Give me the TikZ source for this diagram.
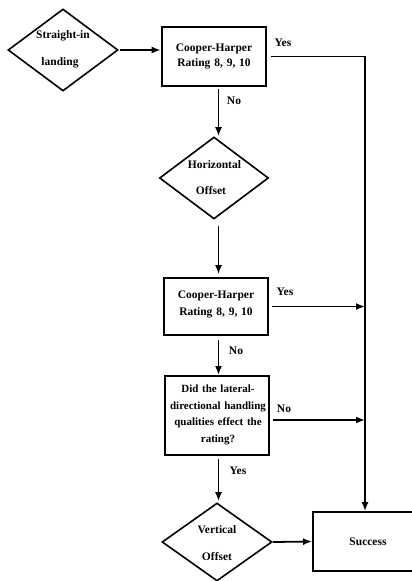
\documentclass[tikz,border=0pt]{standalone}
\usepackage{fontspec}
\setmainfont{Liberation Serif}
\usetikzlibrary{shapes.geometric,arrows.meta}
\begin{document}
\begin{tikzpicture}[x=1pt,y=-1pt,
  txt/.style={font=\bfseries\fontsize{11.5}{15}\selectfont,align=center,inner sep=0pt},
  dia/.style={diamond,draw,line width=1.6pt,inner sep=0pt},
  box/.style={rectangle,draw,line width=1.8pt,inner sep=0pt,minimum width=104pt},
  arr/.style={line width=1.8pt,-{Latex[length=9pt,width=7pt]}}]
\useasboundingbox (0,0) rectangle (412,581);
\clip (0,0) rectangle (412,581);
% shapes
\node[dia,minimum width=110pt,minimum height=82pt] (d1) at (63,50) {};
\node[box,line width=2.6pt,minimum height=59pt] (b1) at (214,56.5) {};
\node[dia,minimum width=109pt,minimum height=82pt] (d2) at (214,178) {};
\node[box,line width=1.6pt,minimum height=57pt] (b2) at (216,306.5) {};
\node[box,line width=2pt,minimum height=79pt] (b3) at (217,415.5) {};
\node[dia,minimum width=110pt,minimum height=78pt] (d3) at (217,542) {};
\node[rectangle,draw,line width=1.7pt,minimum width=110pt,minimum height=59pt] (s) at (368,541.5) {};
% texts
\node[txt] (t1a) at (63,36) {Straight-in};
\node[txt] (t1b) at (60,63) {landing};
\node[txt,text width=104pt] (t2) at (b1) {Cooper-Harper\\Rating 8, 9, 10};
\node[txt] (t3a) at (214.5,165) {Horizontal};
\node[txt] (t3b) at (211,191) {Offset};
\node[txt,text width=104pt,font=\bfseries\fontsize{11.5}{17}\selectfont] (t4) at (216,304.5) {Cooper-Harper\\Rating 8, 9, 10};
\node[txt,text width=110pt,font=\bfseries\fontsize{11}{16.5}\selectfont] (t5) at (218,415) {Did the lateral-\\directional handling\\qualities effect the\\rating?};
\node[txt] (t6a) at (217,530) {Vertical};
\node[txt] (t6b) at (217,556) {Offset};
\node[txt] (t7) at (s) {Success};
% connector labels
\node[txt] (l1) at (283,43) {Yes};
\node[txt] (l2) at (234,101) {No};
\node[txt] (l3) at (285,292) {Yes};
\node[txt] (l4) at (236,351) {No};
\node[txt] (l5) at (284,409) {No};
\node[txt] (l6) at (238,471) {Yes};
% helper coordinates
\coordinate (sp) at (218.5,0);
\coordinate (r1) at (365,56.5);
\coordinate (r2) at (365,306.5);
\coordinate (r3) at (365,420);
% connectors
\draw[arr,shorten <=1pt] (d1.east) -- (d1.east -| b1.west);
\draw[arr] ([xshift=4pt]b1.east) -- (r1) -- (r1 |- s.north);
\draw[arr,shorten <=2pt] (b1.south -| sp) -- (d2.north -| sp);
\draw[arr,shorten <=6pt,shorten >=3pt] (d2.south -| sp) -- (b2.north -| sp);
\draw[arr] ([xshift=3pt]b2.east) -- (r2);
\draw[arr,shorten <=4pt] (b2.south -| sp) -- (b3.north -| sp);
\draw[arr] ([xshift=3pt]b3.east |- r3) -- (r3);
\draw[arr,shorten <=3pt,shorten >=1pt] (b3.south -| sp) -- (d3.north -| sp);
\draw[arr] (d3.east) -- (s.west);
\end{tikzpicture}
\end{document}
